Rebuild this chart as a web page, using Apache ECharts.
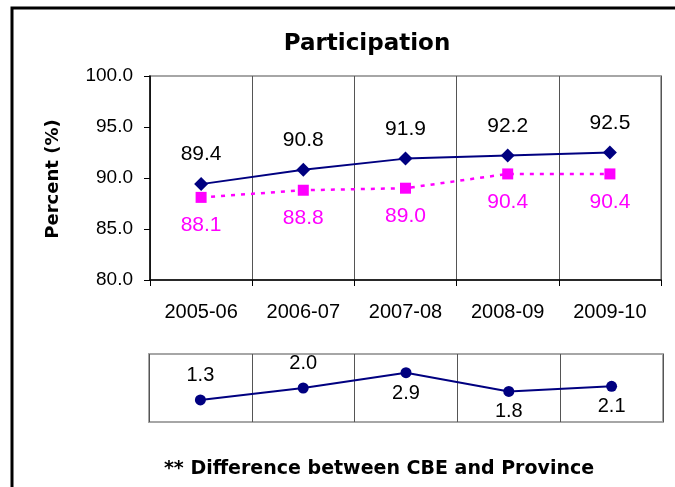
<!DOCTYPE html>
<html>
<head>
<meta charset="utf-8">
<script src="https://cdn.jsdelivr.net/npm/echarts@6/dist/echarts.min.js"></script>
<style>
html,body{margin:0;padding:0;background:#fff;}
#chart{width:675px;height:487px;}
</style>
</head>
<body>
<div id="chart"></div>
<script>
const categories = ['2005-06', '2006-07', '2007-08', '2008-09', '2009-10'];
const cbeValues = [89.4, 90.8, 91.9, 92.2, 92.5];
const provinceValues = [88.1, 88.8, 89.0, 90.4, 90.4];
const diffValues = [1.3, 2.0, 2.9, 1.8, 2.1];
const titleText = 'Participation';
const yAxisTitle = 'Percent (%)';
const captionText = '** Difference between CBE and Province';

const REG = '"Liberation Sans", Arial, sans-serif';
const BOLD = '"DejaVu Sans", "Liberation Sans", Arial, sans-serif';
const diffLabelSide = ['top', 'top', 'bottom', 'bottom', 'bottom'];

const chart = echarts.init(document.getElementById('chart'), null, {renderer: 'canvas'});
const option = {
  animation: false,
  backgroundColor: '#fff',
  textStyle: {fontFamily: REG},
  grid: [
    {left: 150, top: 76, width: 511, height: 204, show: true, borderColor: '#a6a6a6', borderWidth: 2, backgroundColor: 'transparent'},
    {left: 149, top: 354, width: 514, height: 68, show: true, borderColor: '#a6a6a6', borderWidth: 2, backgroundColor: 'transparent'}
  ],
  xAxis: [
    {
      type: 'category', gridIndex: 0, data: categories, boundaryGap: true,
      axisLine: {show: true, lineStyle: {color: '#000', width: 1.5}},
      axisTick: {show: true, length: 6, lineStyle: {color: '#000'}},
      axisLabel: {color: '#000', fontSize: 20, margin: 22, fontFamily: REG},
      splitLine: {show: true, lineStyle: {color: '#555', width: 1}}
    },
    {
      type: 'category', gridIndex: 1, data: categories, boundaryGap: true,
      axisLine: {show: false}, axisTick: {show: false}, axisLabel: {show: false},
      splitLine: {show: true, lineStyle: {color: '#555', width: 1}}
    }
  ],
  yAxis: [
    {
      type: 'value', gridIndex: 0, min: 80, max: 100, interval: 5,
      axisLine: {show: true, lineStyle: {color: '#000', width: 1.5}},
      axisTick: {show: true, length: 6, lineStyle: {color: '#000'}},
      axisLabel: {color: '#000', fontSize: 19, margin: 17, fontFamily: REG, formatter: v => v.toFixed(1)},
      splitLine: {show: false}
    },
    {
      type: 'value', gridIndex: 1, min: 0, max: 4,
      axisLine: {show: false}, axisTick: {show: false}, axisLabel: {show: false}, splitLine: {show: false}
    }
  ],
  series: [
    {
      type: 'line', xAxisIndex: 0, yAxisIndex: 0, data: cbeValues,
      symbol: 'diamond', symbolSize: 14,
      lineStyle: {color: '#000080', width: 2},
      itemStyle: {color: '#000080'},
      label: {show: true, position: 'top', distance: 12, color: '#000', fontSize: 21, fontFamily: REG, formatter: p => p.value.toFixed(1)},
      z: 3
    },
    {
      type: 'line', xAxisIndex: 0, yAxisIndex: 0, data: provinceValues,
      symbol: 'rect', symbolSize: 11,
      lineStyle: {color: '#ff00ff', width: 2.5, type: [4, 6]},
      itemStyle: {color: '#ff00ff'},
      label: {show: true, position: 'bottom', distance: 12, color: '#ff00ff', fontSize: 21, fontFamily: REG, formatter: p => p.value.toFixed(1)},
      z: 2
    },
    {
      type: 'line', xAxisIndex: 1, yAxisIndex: 1,
      data: diffValues.map((v, i) => ({value: v, label: {position: diffLabelSide[i], distance: diffLabelSide[i] === 'top' ? 9 : 5}})),
      symbol: 'circle', symbolSize: 11,
      lineStyle: {color: '#000080', width: 2},
      itemStyle: {color: '#000080'},
      label: {show: true, color: '#000', fontSize: 20, fontFamily: REG, formatter: p => p.value.toFixed(1)},
      z: 3
    }
  ],
  graphic: [
    {type: 'rect', shape: {x: 12, y: 8, width: 740, height: 540}, style: {fill: 'none', stroke: '#000', lineWidth: 3}, z: 100},
    {type: 'text', x: 367, y: 44, style: {text: titleText, fill: '#000', font: 'bold 23px ' + BOLD, textAlign: 'center', textVerticalAlign: 'middle'}},
    {type: 'text', x: 53, y: 179, rotation: Math.PI / 2, style: {text: yAxisTitle, fill: '#000', font: 'bold 18px ' + BOLD, textAlign: 'center', textVerticalAlign: 'middle'}},
    {type: 'text', x: 379, y: 469, style: {text: captionText, fill: '#000', font: 'bold 19px ' + BOLD, textAlign: 'center', textVerticalAlign: 'middle'}}
  ]
};
chart.setOption(option);
</script>
</body>
</html>
